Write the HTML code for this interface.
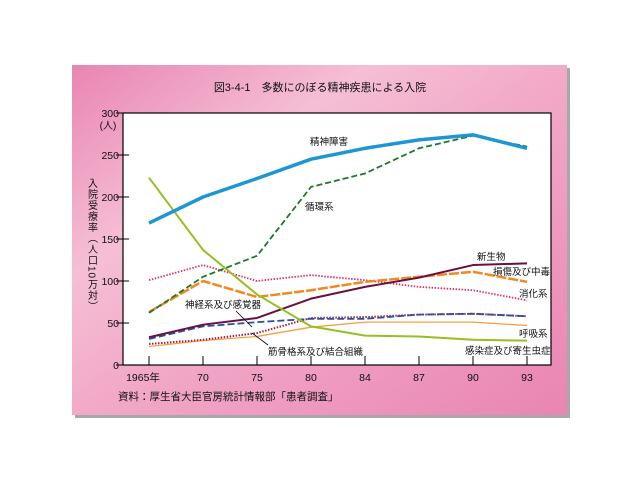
<!DOCTYPE html>
<html><head><meta charset="utf-8">
<style>
html,body{margin:0;padding:0;background:#fff;}
body{width:640px;height:480px;overflow:hidden;}
svg{display:block;font-family:"Liberation Sans","Noto Sans CJK JP",sans-serif;}
</style></head>
<body>
<svg width="640" height="480">
<defs>
<linearGradient id="pk" x1="0" y1="0" x2="1" y2="1">
<stop offset="0" stop-color="#e985b2"/>
<stop offset="0.3" stop-color="#f5bfd5"/>
<stop offset="0.5" stop-color="#f2aac8"/>
<stop offset="1" stop-color="#e985b2"/>
</linearGradient>
</defs>
<rect x="75" y="68" width="495" height="350" fill="#a8a8a8"/>
<rect x="72" y="65" width="495" height="350" fill="url(#pk)"/>
<text x="320" y="91" text-anchor="middle" font-size="11" fill="#111">図3-4-1　多数にのぼる精神疾患による入院</text>
<rect x="123" y="113" width="428" height="252" fill="#fff" stroke="#000" stroke-width="1.2"/>
<g id="axes"></g>
<g id="series"></g>
<text x="108" y="129" text-anchor="middle" font-size="10" fill="#111">(人)</text>
<text x="91" y="178" style="writing-mode:tb" font-size="10" fill="#111" letter-spacing="1">入院受療率（人口10万対）</text>
<text x="118" y="400" font-size="10.5" fill="#111">資料：厚生省大臣官房統計情報部「患者調査」</text>
<g font-size="9.5" fill="#111">
<text x="310" y="145">精神障害</text>
<text x="305" y="210">循環系</text>
<text x="477" y="260">新生物</text>
<text x="493" y="275">損傷及び中毒</text>
<text x="519" y="297">消化系</text>
<text x="519" y="337">呼吸系</text>
<text x="465" y="354">感染症及び寄生虫症</text>
<text x="185" y="308">神経系及び感覚器</text>
<text x="268" y="355">筋骨格系及び結合組織</text>
</g>
<line x1="236" y1="311" x2="252" y2="327" stroke="#000" stroke-width="0.8"/>
<line x1="268" y1="345" x2="252" y2="333" stroke="#000" stroke-width="0.8"/>
</svg>
<script>
const categories=["1965年","70","75","80","84","87","90","93"];
const yTicks=[0,50,100,150,200,250,300];
const mental=[169,200,222,245,258,268,274,258];
const circulatory=[62,105,130,212,228,258,273,260];
const infectious=[223,137,84,46,35,34,30,29];
const neoplasm=[33,48,56,79,93,104,119,121];
const injury=[63,100,81,89,99,105,111,99];
const digestive=[101,119,100,107,101,93,89,77];
const nervous=[31,46,51,55,55,60,61,58];
const musculo=[25,30,38,56,57,60,61,58];
const respiratory=[22,29,34,45,51,51,51,47];

const NS="http://www.w3.org/2000/svg";
function xs(i){return 149+i*54;}
function ys(v){return 365-v*0.84;}
const axes=document.getElementById('axes');
const ser=document.getElementById('series');
function mk(tag,attrs,parent){const e=document.createElementNS(NS,tag);for(const k in attrs)e.setAttribute(k,attrs[k]);parent.appendChild(e);return e;}
yTicks.forEach(v=>{
  const l=mk('line',{x1:116,x2:129,y1:ys(v),y2:ys(v),stroke:'#000','stroke-width':1},axes);
  
  
  const t=mk('text',{x:119,y:ys(v)+4,'text-anchor':'end','font-size':10.5,fill:'#111'},axes);
  t.textContent=v;
  
  
});
categories.forEach((c,i)=>{
  const l=mk('line',{x1:xs(i),x2:xs(i),y1:356,y2:365,stroke:'#000','stroke-width':1},axes);
  
  
  const t=mk('text',{x:xs(i)-(i==0?6:0),y:381,'text-anchor':'middle','font-size':10.5,fill:'#111'},axes);
  t.textContent=c;
  
  
});
function line(data,color,w,dash,name){
  const p=mk('polyline',{points:data.map((v,i)=>xs(i)+','+ys(v)).join(' '),fill:'none',stroke:color,'stroke-width':w,'stroke-dasharray':dash,'stroke-linejoin':'round'},ser);
  
  
}
line(respiratory,'#f5a040',1.3,'none','line-respiratory');
line(musculo,'#a0204a',2,'1.5 1.5','line-musculoskeletal');
line(nervous,'#2a50a0',1.8,'7 3','line-nervous');
line(digestive,'#d83070',1.8,'1.5 1.5','line-digestive');
line(injury,'#f08a20',2.5,'10 2','line-injury');
line(neoplasm,'#6a1040',2,'none','line-neoplasm');
line(infectious,'#94c020',2,'none','line-infectious');
line(circulatory,'#1a7a2a',1.8,'6 3','line-circulatory');
line(mental,'#1e96d4',3.5,'none','line-mental');
</script>
</body></html>
